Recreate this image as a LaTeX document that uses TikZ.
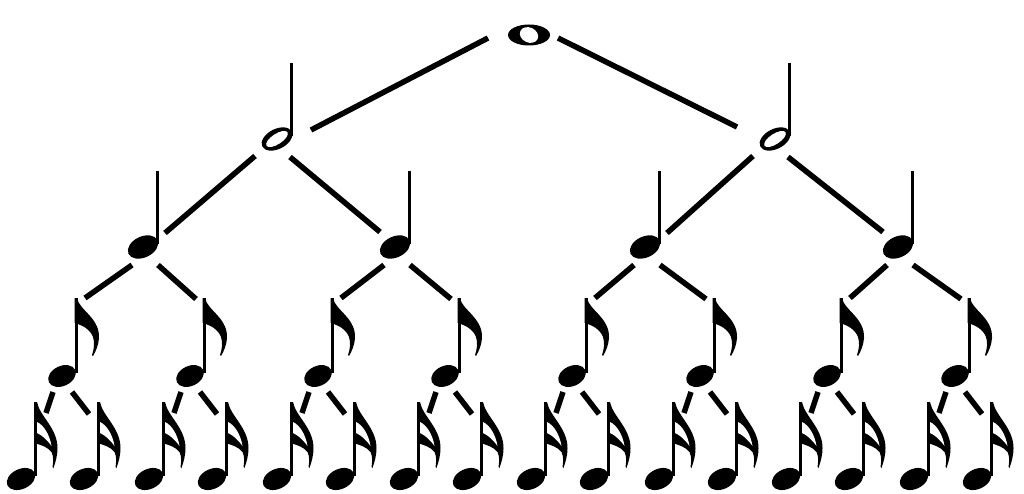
\documentclass[tikz,border=0pt]{standalone}
\newcommand\blackhead[4]{\fill[rotate around={25:(#1,#2)}] (#1,#2) ellipse [x radius=#3, y radius=#4];}
\newcommand\wholenote[3]{%
  \fill (#2,#3) ellipse [x radius=21, y radius=10.5];
  \fill[white, rotate around={-25:(#2,#3)}] (#2,#3) ellipse [x radius=9.5, y radius=7.5];
  \coordinate (#1) at (#2,#3);
  \coordinate (#1-l) at (#2-41,#3+3);
  \coordinate (#1-r) at (#2+29,#3+3);
}
\newcommand\halfnote[3]{%
  \fill[rotate around={27:(#2,#3)}] (#2,#3) ellipse [x radius=16.5, y radius=10];
  \fill[white, rotate around={33:(#2,#3)}] (#2,#3) ellipse [x radius=12.5, y radius=5.2];
  \draw[stemthin] (#2+14.5,#3-3) -- (#2+14.5,#3-76);
  \coordinate (#1) at (#2,#3);
  \coordinate (#1-l) at (#2-22,#3+17);
  \coordinate (#1-r) at (#2+13,#3+18);
  \coordinate (#1-tl) at (#2+34,#3-9);
  \coordinate (#1-tr) at (#2-38,#3-12);
}
\newcommand\quarternote[3]{%
  \blackhead{#2}{#3}{16}{10.5}
  \draw[stemthin] (#2+14.5,#3-3) -- (#2+14.5,#3-76);
  \coordinate (#1) at (#2,#3);
  \coordinate (#1-l) at (#2-11,#3+18);
  \coordinate (#1-r) at (#2+15,#3+18);
  \coordinate (#1-tl) at (#2+22,#3-14);
  \coordinate (#1-tr) at (#2-15,#3-15);
}
\newcommand\eighthnote[3]{%
  \blackhead{#2}{#3}{14.5}{10}
  \draw[stemthick] (#2+14,#3-3) -- (#2+14,#3-78);
  \fill[shift={(#2+14,#3-78)}] (-1.5,0) -- (1,0) .. controls (3,12) and (24,20) .. (23,40)
     .. controls (22.5,47) and (20,53) .. (17,58) -- (16,57) .. controls (18,51) and (19,45) .. (17,39)
     .. controls (14,31) and (6,27) .. (-1.5,25) -- cycle;
  \coordinate (#1) at (#2,#3);
  \coordinate (#1-l) at (#2-9,#3+16);
  \coordinate (#1-r) at (#2+10,#3+16);
  \coordinate (#1-tl) at (#2+23,#3-78);
  \coordinate (#1-tr) at (#2+6,#3-77);
}
\newcommand\sixteenthnote[3]{%
  \blackhead{#2}{#3}{15}{10}
  \draw[stemthick] (#2+14.5,#3-3) -- (#2+14.5,#3-77);
  \begin{scope}[shift={(#2+14.5,#3-77)}]
  \fill (-1.5,0) -- (1.5,0) .. controls (4,14) and (22,26) .. (22,46)
     .. controls (22,54) and (20,60) .. (18,66) -- (17,65) .. controls (18,59) and (18,54) .. (16,50)
     .. controls (12,45) and (6,43) .. (-1.5,41) -- cycle;
  \fill[white] (1.5,20) .. controls (8,23) and (14,32) .. (16,44)
     .. controls (11,37) and (6,33) .. (1.5,31) -- cycle;
  \end{scope}
  \coordinate (#1) at (#2,#3);
  \coordinate (#1-tl) at (#2+25,#3-66);
  \coordinate (#1-tr) at (#2+5,#3-65);
}
\begin{document}
\begin{tikzpicture}[x=1pt,y=-1pt,
  conn/.style={line width=5.5pt},
  stemthin/.style={line width=2.4pt},
  stemthick/.style={line width=3pt}]
\useasboundingbox (0,0) rectangle (1024,494);
\wholenote{W}{529}{35}
\halfnote{H1}{277}{139}
\halfnote{H2}{775}{139}
\quarternote{Q1}{143}{247}
\quarternote{Q2}{395}{247}
\quarternote{Q3}{645}{247}
\quarternote{Q4}{898}{247}
\eighthnote{E1}{62}{376}
\eighthnote{E2}{190}{376}
\eighthnote{E3}{318}{376}
\eighthnote{E4}{445}{376}
\eighthnote{E5}{572}{376}
\eighthnote{E6}{700}{376}
\eighthnote{E7}{827}{376}
\eighthnote{E8}{955}{376}
\foreach \i/\x in {1/62,2/190,3/318,4/445,5/572,6/700,7/827,8/955}{
  \sixteenthnote{S\i L}{\x-41}{479}
  \sixteenthnote{S\i R}{\x+22}{479}
  \draw[conn] (E\i-l) -- (S\i L-tl);
  \draw[conn] (E\i-r) -- (S\i R-tr);
}
\draw[conn] (W-l) -- (H1-tl);
\draw[conn] (W-r) -- (H2-tr);
\draw[conn] (H1-l) -- (Q1-tl);
\draw[conn] (H1-r) -- (Q2-tr);
\draw[conn] (H2-l) -- (Q3-tl);
\draw[conn] (H2-r) -- (Q4-tr);
\draw[conn] (Q1-l) -- (E1-tl);
\draw[conn] (Q1-r) -- (E2-tr);
\draw[conn] (Q2-l) -- (E3-tl);
\draw[conn] (Q2-r) -- (E4-tr);
\draw[conn] (Q3-l) -- (E5-tl);
\draw[conn] (Q3-r) -- (E6-tr);
\draw[conn] (Q4-l) -- (E7-tl);
\draw[conn] (Q4-r) -- (E8-tr);
\end{tikzpicture}
\end{document}
